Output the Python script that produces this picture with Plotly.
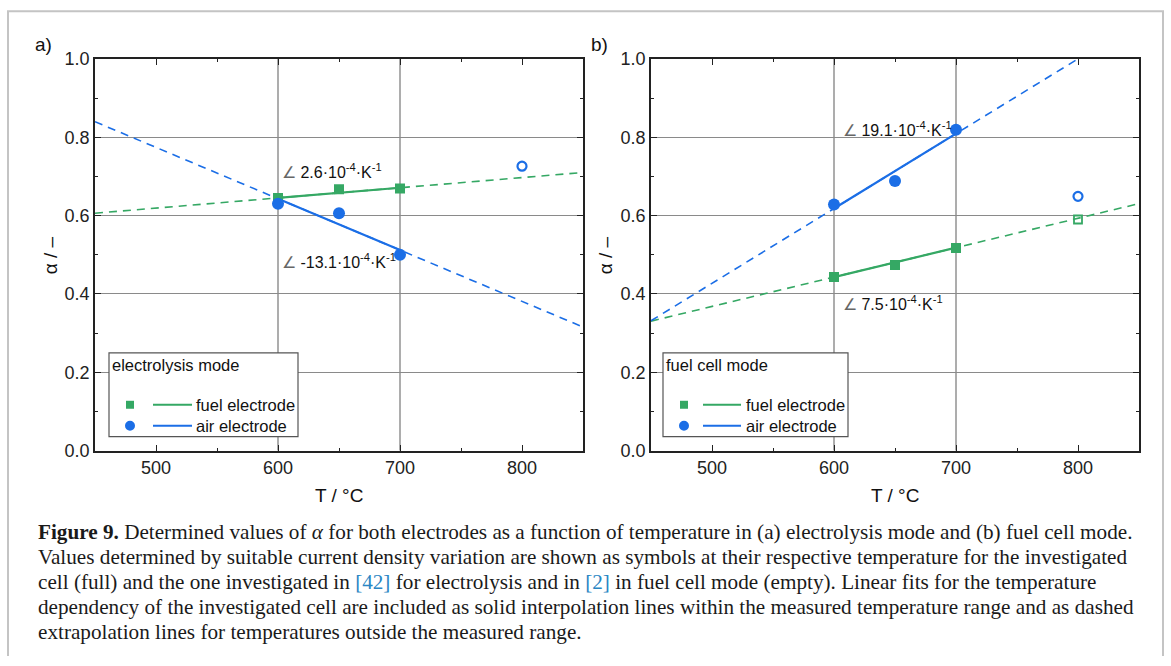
import plotly.graph_objects as go

W, HF = 1171, 666
TOP, SY = 9, 0.973   # observed vertical offset/scale of the figure in the photographed page

# ---------------- data ----------------
temps = [600, 650, 700]
# panel a: electrolysis mode
a_fuel = [0.645, 0.667, 0.669]
a_air = [0.630, 0.606, 0.500]
a_ref_T = [800]
a_ref_air = [0.726]
# panel b: fuel cell mode
b_fuel = [0.443, 0.474, 0.517]
b_air = [0.628, 0.688, 0.819]
b_ref_T = [800]
b_ref_fuel = [0.590]
b_ref_air = [0.649]

# linear fits (slope per K, value at 600 °C)
a_fuel_fit = (2.6e-4, 0.645)
a_air_fit = (-13.1e-4, 0.643)
b_fuel_fit = (7.5e-4, 0.443)
b_air_fit = (19.1e-4, 0.618)

fit_range = [600, 700]
extra_range = [450, 850]
grid_T = [600, 700]

GREEN = "#35a864"
BLUE = "#1b6ee6"
FONT = "Liberation Sans, Arial, sans-serif"
SERIF = "Liberation Serif, Times New Roman, serif"


def px(x):
    return x / W


def py(y):
    return 1 - (y - TOP) / SY / HF


def line_pts(fit, xs):
    s, y600 = fit
    return [y600 + s * (x - 600) for x in xs]


fig = go.Figure()

panels = [
    dict(xa="x", ya="y", fuel=a_fuel, air=a_air, ffit=a_fuel_fit, afit=a_air_fit),
    dict(xa="x2", ya="y2", fuel=b_fuel, air=b_air, ffit=b_fuel_fit, afit=b_air_fit),
]

for p in panels:
    for fit, col in [(p["ffit"], GREEN), (p["afit"], BLUE)]:
        fig.add_trace(go.Scatter(x=extra_range, y=line_pts(fit, extra_range), mode="lines",
                                 line=dict(color=col, width=1.6, dash="8px,6px"),
                                 xaxis=p["xa"], yaxis=p["ya"], showlegend=False, hoverinfo="skip"))
        fig.add_trace(go.Scatter(x=fit_range, y=line_pts(fit, fit_range), mode="lines",
                                 line=dict(color=col, width=2.2),
                                 xaxis=p["xa"], yaxis=p["ya"], showlegend=False, hoverinfo="skip"))
    fig.add_trace(go.Scatter(x=temps, y=p["fuel"], mode="markers",
                             marker=dict(symbol="square", size=10, color=GREEN),
                             xaxis=p["xa"], yaxis=p["ya"], showlegend=False))
    fig.add_trace(go.Scatter(x=temps, y=p["air"], mode="markers",
                             marker=dict(symbol="circle", size=12, color=BLUE),
                             xaxis=p["xa"], yaxis=p["ya"], showlegend=False))

fig.add_trace(go.Scatter(x=a_ref_T, y=a_ref_air, mode="markers",
                         marker=dict(symbol="circle-open", size=9, color=BLUE, line=dict(width=2.2)),
                         xaxis="x", yaxis="y", showlegend=False))
fig.add_trace(go.Scatter(x=b_ref_T, y=b_ref_air, mode="markers",
                         marker=dict(symbol="circle-open", size=9, color=BLUE, line=dict(width=2.2)),
                         xaxis="x2", yaxis="y2", showlegend=False))
fig.add_trace(go.Scatter(x=b_ref_T, y=b_ref_fuel, mode="markers",
                         marker=dict(symbol="square-open", size=8, color=GREEN, line=dict(width=1.8)),
                         xaxis="x2", yaxis="y2", showlegend=False))

xax = dict(range=[450, 850], tickvals=[500, 600, 700, 800], ticks="inside", ticklen=6,
           tickwidth=1.3, tickcolor="#222", showline=True, linecolor="#222", linewidth=1.6,
           mirror="ticks", showgrid=False, zeroline=False,
           minor=dict(dtick=50, tick0=450, ticks="inside", ticklen=3, tickcolor="#222", showgrid=False),
           tickfont=dict(family=FONT, size=18, color="#222"))
yax = dict(range=[0, 1.0], dtick=0.2, tick0=0, tickformat=".1f", ticks="inside", ticklen=6,
           tickwidth=1.3, tickcolor="#222", showline=True, linecolor="#222", linewidth=1.6,
           mirror="ticks", showgrid=True, gridcolor="#8a8a8a", gridwidth=1.4, zeroline=False,
           minor=dict(dtick=0.1, ticks="inside", ticklen=3, tickcolor="#222", showgrid=False),
           tickfont=dict(family=FONT, size=18, color="#222"))

ydom = [py(451), py(58)]
fig.update_layout(
    width=W, height=HF, margin=dict(l=0, r=0, t=0, b=0),
    paper_bgcolor="white", plot_bgcolor="white",
    xaxis=dict(xax, domain=[px(95), px(583)], anchor="y"),
    yaxis=dict(yax, domain=ydom, anchor="x"),
    xaxis2=dict(xax, domain=[px(651), px(1139)], anchor="y2"),
    yaxis2=dict(yax, domain=ydom, anchor="x2"),
    showlegend=False,
)

shapes = []
# vertical gridlines at measured range bounds
for xa, ya in [("x", "y"), ("x2", "y2")]:
    for t in grid_T:
        shapes.append(dict(type="line", xref=xa, yref=f"{ya} domain", x0=t, x1=t, y0=0, y1=1,
                           line=dict(color="#8a8a8a", width=1.4), layer="below"))

# page frame
shapes.append(dict(type="path", xref="paper", yref="paper",
                   path=f"M {px(8)} 0 L {px(8)} 0.998 L {px(1163)} 0.998 L {px(1163)} 0",
                   line=dict(color="#c4c4c4", width=2), layer="above"))

annotations = []

def legend_box(x0, x1, title, mx, l0, l1, tx):
    shapes.append(dict(type="rect", xref="paper", yref="paper", x0=px(x0), x1=px(x1),
                       y0=py(437), y1=py(353), fillcolor="white",
                       line=dict(color="#555", width=1.2), layer="above"))
    annotations.append(dict(x=px(x0 + 1), y=py(365), xref="paper", yref="paper", text=title,
                            showarrow=False, xanchor="left", yanchor="middle",
                            font=dict(family=FONT, size=16.5, color="#111")))
    for yy, col, kind, lab in [(405, GREEN, "rect", "fuel electrode"),
                               (426, BLUE, "circle", "air electrode")]:
        r = 4 if kind == "rect" else 5
        shapes.append(dict(type=kind, xref="paper", yref="paper", x0=px(mx - r), x1=px(mx + r),
                           y0=py(yy + r), y1=py(yy - r), fillcolor=col, line=dict(width=0),
                           layer="above"))
        shapes.append(dict(type="line", xref="paper", yref="paper", x0=px(l0), x1=px(l1),
                           y0=py(yy), y1=py(yy), line=dict(color=col, width=2), layer="above"))
        annotations.append(dict(x=px(tx), y=py(yy), xref="paper", yref="paper", text=lab,
                                showarrow=False, xanchor="left", yanchor="middle",
                                font=dict(family=FONT, size=16.5, color="#111")))

legend_box(109, 298, "electrolysis mode", 130, 153, 192, 194)
legend_box(663, 848, "fuel cell mode", 684, 703, 741, 744)

def slope_label(x, y, val):
    annotations.append(dict(x=px(x), y=py(y), xref="paper", yref="paper",
                            text=f"<span style='color:#666'>∠</span> {val}·10<sup>-4</sup>·K<sup>-1</sup>",
                            showarrow=False, xanchor="left", yanchor="middle",
                            font=dict(family=FONT, size=16, color="#111")))

slope_label(280, 171, "2.6")
slope_label(280, 261, "-13.1")
slope_label(841, 128, "19.1")
slope_label(841, 303, "7.5")

for x, t in [(43, "a)"), (600, "b)")]:
    annotations.append(dict(x=px(x), y=py(44), xref="paper", yref="paper", text=t,
                            showarrow=False, xanchor="center", yanchor="middle",
                            font=dict(family=FONT, size=19, color="#111")))
for x in [339, 895]:
    annotations.append(dict(x=px(x), y=py(496), xref="paper", yref="paper", text="T / °C",
                            showarrow=False, xanchor="center", yanchor="middle",
                            font=dict(family=FONT, size=19, color="#111")))
for x in [50, 605]:
    annotations.append(dict(x=px(x), y=py(255), xref="paper", yref="paper", text="α / –",
                            showarrow=False, xanchor="center", yanchor="middle", textangle=-90,
                            font=dict(family=FONT, size=19, color="#111")))

REF = "<span style='color:#2a86c4'>[{}]</span>"
caption = [
    "<b>Figure 9.</b> Determined values of <i>α</i> for both electrodes as a function of temperature in (a) electrolysis mode and (b) fuel cell mode.",
    "Values determined by suitable current density variation are shown as symbols at their respective temperature for the investigated",
    f"cell (full) and the one investigated in {REF.format(42)} for electrolysis and in {REF.format(2)} in fuel cell mode (empty). Linear fits for the temperature",
    "dependency of the investigated cell are included as solid interpolation lines within the measured temperature range and as dashed",
    "extrapolation lines for temperatures outside the measured range.",
]
for i, line in enumerate(caption):
    annotations.append(dict(x=px(36), y=py(533 + 25 * i), xref="paper", yref="paper", text=line,
                            showarrow=False, xanchor="left", yanchor="middle",
                            font=dict(family=SERIF, size=21.2, color="#1a1a1a")))

fig.update_layout(shapes=shapes, annotations=annotations)
fig.write_html("out.html")
